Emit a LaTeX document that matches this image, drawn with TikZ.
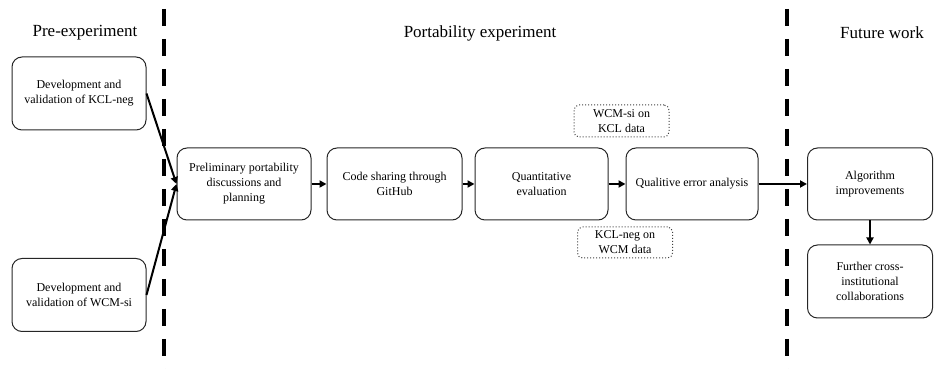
\documentclass[tikz,border=0pt]{standalone}
\usepackage{fontspec}
\setmainfont{Liberation Serif}
\usetikzlibrary{arrows.meta}
\begin{document}
\begin{tikzpicture}[x=1pt,y=1pt,
  stage/.style={draw=black!85, line width=1pt, rounded corners=10pt,
    align=center, inner sep=2pt, font=\fontsize{12}{15}\selectfont,
    minimum height=73pt},
  note/.style={draw=black!75, dotted, line width=1pt, rounded corners=5pt,
    align=center, inner sep=2pt, font=\fontsize{12}{15}\selectfont,
    minimum width=95pt, minimum height=32pt},
  heading/.style={font=\fontsize{17}{20}\selectfont},
  flow/.style={line width=2pt, -{Triangle[length=7pt,width=7pt]}},
  divider/.style={line width=4pt, dash pattern=on 17pt off 13pt}]
\useasboundingbox (0,0) rectangle (934,369);

% phase dividers
\coordinate (d1top) at (164,360);
\coordinate (d1bot) at (164,0);
\coordinate (d2top) at (787,360);
\coordinate (d2bot) at (787,0);
\draw[divider] (d1top) -- (d1bot);
\draw[divider] (d2top) -- (d2bot);

% phase headings
\node[heading] (hpre) at (85,336) {Pre-experiment};
\node[heading] (hport) at (480,336) {Portability experiment};
\node[heading] (hfut) at (882,336) {Future work};

% stages
\node[stage, minimum width=134pt] (kcl) at (79,275.5) {Development and\\validation of KCL-neg};
\node[stage, minimum width=134pt] (wcm) at (79,74) {Development and\\validation of WCM-si};
\node[stage, minimum width=134pt, minimum height=72pt] (prelim) at (244,185) {Preliminary portability\\discussions and\\planning};
\node[stage, minimum width=135pt, minimum height=72pt] (code) at (394.5,185) {Code sharing through\\GitHub};
\node[stage, minimum width=133pt, minimum height=72pt] (quant) at (541.5,185) {Quantitative\\evaluation};
\node[stage, minimum width=132pt, minimum height=72pt] (qual) at (692,185) {Qualitive error analysis};
\node[stage, minimum width=125pt, minimum height=72pt] (algo) at (870,185) {Algorithm\\improvements};
\node[stage, minimum width=125pt] (further) at (870,87.5) {Further cross-\\institutional\\collaborations};

% data notes
\node[note] (n1) at (621.5,248) {WCM-si on\\KCL data};
\node[note, minimum height=31pt] (n2) at (625,126.5) {KCL-neg on\\WCM data};

% connectors
\draw[flow] (kcl.east) -- (prelim.west);
\draw[flow] (wcm.east) -- (prelim.west);
\draw[flow] (prelim) -- (code);
\draw[flow] (code) -- (quant);
\draw[flow] (quant) -- (qual);
\draw[flow] (qual) -- (algo);
\draw[flow] (algo) -- (further);
\end{tikzpicture}
\end{document}
